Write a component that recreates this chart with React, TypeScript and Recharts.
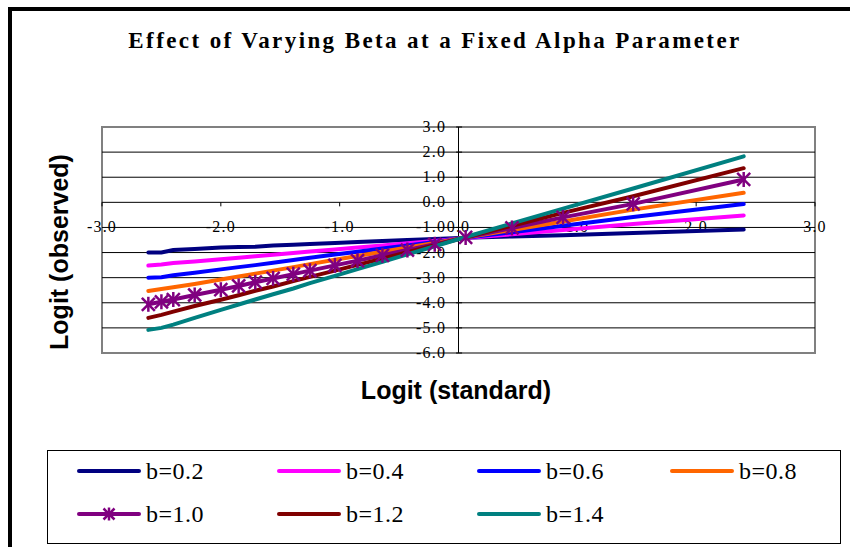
import { LineChart, Line, XAxis, YAxis, ReferenceLine, ReferenceArea } from 'recharts';

// standard logits (x) shared by every series
const xStandard = [-2.61, -2.5, -2.4, -2.22, -2.0, -1.85, -1.71, -1.56, -1.39, -1.25, -1.04, -0.85, -0.64, -0.43, -0.2, 0.06, 0.45, 0.88, 1.47, 2.4];

// observed logits, one array per beta
const beta02 = [-2.0, -2.0, -1.9, -1.86, -1.8, -1.78, -1.77, -1.72, -1.69, -1.66, -1.62, -1.58, -1.54, -1.5, -1.46, -1.41, -1.36, -1.31, -1.22, -1.08];
const beta04 = [-2.52, -2.48, -2.42, -2.36, -2.27, -2.21, -2.15, -2.09, -2.02, -1.96, -1.88, -1.8, -1.72, -1.63, -1.54, -1.42, -1.27, -1.1, -0.86, -0.52];
const beta06 = [-3.0, -2.98, -2.9, -2.8, -2.67, -2.58, -2.5, -2.41, -2.3, -2.21, -2.08, -1.97, -1.84, -1.72, -1.58, -1.41, -1.19, -0.93, -0.58, -0.07];
const beta08 = [-3.53, -3.45, -3.38, -3.25, -3.07, -2.95, -2.84, -2.72, -2.58, -2.46, -2.29, -2.14, -1.97, -1.8, -1.62, -1.4, -1.1, -0.76, -0.29, 0.38];
const beta10 = [-4.06, -3.96, -3.87, -3.69, -3.48, -3.33, -3.18, -3.03, -2.86, -2.72, -2.51, -2.32, -2.11, -1.9, -1.67, -1.4, -1.02, -0.6, -0.06, 0.91];
const beta12 = [-4.6, -4.48, -4.35, -4.13, -3.88, -3.7, -3.52, -3.35, -3.14, -2.97, -2.72, -2.49, -2.24, -1.99, -1.71, -1.39, -0.93, -0.42, 0.24, 1.36];
const beta14 = [-5.08, -5.0, -4.87, -4.6, -4.28, -4.07, -3.87, -3.66, -3.43, -3.22, -2.93, -2.66, -2.37, -2.07, -1.75, -1.38, -0.84, -0.25, 0.55, 1.83];

const seriesNames = ['b=0.2', 'b=0.4', 'b=0.6', 'b=0.8', 'b=1.0', 'b=1.2', 'b=1.4'];
const seriesColors = ['#000080', '#FF00FF', '#0000FF', '#FF6600', '#800080', '#800000', '#008080'];
const seriesValues = [beta02, beta04, beta06, beta08, beta10, beta12, beta14];
const starSeries = 'b=1.0';

const xTicks = [-3, -2, -1, 0, 1, 2, 3];
const yTicks = [3, 2, 1, 0, -1, -2, -3, -4, -5, -6];

const data = xStandard.map((x, i) => {
  const row: Record<string, number> = { x };
  seriesNames.forEach((name, s) => {
    row[name] = seriesValues[s][i];
  });
  return row;
});

const serif = "'Liberation Serif', 'Times New Roman', serif";
const sans = "'Liberation Sans', Arial, sans-serif";

function Star({ cx, cy, color, size = 6.5 }: { cx?: number; cy?: number; color: string; size?: number }) {
  if (cx == null || cy == null) return null;
  return (
    <g stroke={color} strokeWidth={2.5}>
      <line x1={cx - size} y1={cy - size} x2={cx + size} y2={cy + size} />
      <line x1={cx - size} y1={cy + size} x2={cx + size} y2={cy - size} />
      <line x1={cx} y1={cy - size - 1} x2={cx} y2={cy + size + 1} />
    </g>
  );
}

const xTickLabel = (text: string) => (props: any) => {
  const vb = props.viewBox;
  return (
    <text x={vb.x + vb.width / 2} y={vb.y + 30} textAnchor="middle" fontSize={16} fontFamily={serif} letterSpacing={1.2} fill="#000">
      {text}
    </text>
  );
};

const yTickLabel = (text: string) => (props: any) => {
  const vb = props.viewBox;
  return (
    <text x={vb.x - 10} y={vb.y + 5} textAnchor="end" fontSize={16} fontFamily={serif} letterSpacing={1.2} fill="#000">
      {text}
    </text>
  );
};

const legendCols = [28, 228, 428, 621];

function LegendBox() {
  return (
    <div style={{ position: 'absolute', left: 35, top: 439, width: 792, height: 92, border: '1px solid #000', background: '#fff' }}>
      {seriesNames.map((name, i) => {
        const col = i % 4;
        const row = Math.floor(i / 4);
        return (
          <div key={name} style={{ position: 'absolute', left: legendCols[col], top: 20 + row * 43 - 14, height: 28, display: 'flex', alignItems: 'center' }}>
            <svg width={66} height={16} style={{ display: 'block' }}>
              <line x1={3} y1={8} x2={63} y2={8} stroke={seriesColors[i]} strokeWidth={4} strokeLinecap="round" />
              {name === starSeries && <Star cx={33} cy={8} color={seriesColors[i]} size={5.5} />}
            </svg>
            <span style={{ fontFamily: serif, fontSize: 24, marginLeft: 4, letterSpacing: 0.5, lineHeight: '28px' }}>{name}</span>
          </div>
        );
      })}
    </div>
  );
}

export default function App() {
  return (
    <div style={{ position: 'absolute', left: 8, top: 7, width: 838, height: 536, borderTop: '4px solid #000', borderLeft: '4px solid #000', background: '#fff' }}>
      <div style={{ position: 'absolute', left: 0, top: 16, width: 846, textAlign: 'center', fontFamily: serif, fontWeight: 'bold', fontSize: 23, letterSpacing: 2.4, lineHeight: '28px' }}>
        Effect of Varying Beta at a Fixed Alpha Parameter
      </div>
      <LineChart width={838} height={536} data={data} margin={{ top: 116, right: 35, bottom: 194, left: 90 }}>
        <XAxis dataKey="x" type="number" domain={[-3, 3]} ticks={xTicks} hide allowDataOverflow />
        <YAxis type="number" domain={[-6, 3]} ticks={yTicks} hide allowDataOverflow />
        {yTicks.filter((v) => v !== 3 && v !== -6 && v !== 0).map((v) => (
          <ReferenceLine key={`g${v}`} y={v} stroke="#000" strokeWidth={1} />
        ))}
        <ReferenceArea x1={-3} x2={3} y1={-6} y2={3} fill="none" stroke="#808080" strokeWidth={2} />
        <ReferenceLine y={0} stroke="#000" strokeWidth={1} />
        <ReferenceLine x={0} stroke="#000" strokeWidth={1} />
        {xTicks.map((v) => (
          <ReferenceLine key={`xt${v}`} segment={[{ x: v, y: 0 }, { x: v, y: -0.16 }]} stroke="#000" label={xTickLabel(v.toFixed(1))} />
        ))}
        {yTicks.map((v) => (
          <ReferenceLine key={`yt${v}`} segment={[{ x: -0.02, y: v }, { x: 0.03, y: v }]} stroke="#000" label={yTickLabel(v.toFixed(1))} />
        ))}
        {seriesNames.map((name, i) => (
          <Line
            key={name}
            dataKey={name}
            stroke={seriesColors[i]}
            strokeWidth={4}
            strokeLinecap="round"
            isAnimationActive={false}
            dot={name === starSeries ? (p: any) => <Star key={`st${p.index}`} cx={p.cx} cy={p.cy} color={seriesColors[i]} /> : false}
            activeDot={false}
          />
        ))}
      </LineChart>
      <div style={{ position: 'absolute', left: -78, top: 226, width: 250, height: 30, lineHeight: '30px', textAlign: 'center', fontFamily: sans, fontWeight: 'bold', fontSize: 25, transform: 'rotate(-90deg)' }}>
        Logit (observed)
      </div>
      <div style={{ position: 'absolute', left: 244, top: 364, width: 400, height: 30, lineHeight: '30px', textAlign: 'center', fontFamily: sans, fontWeight: 'bold', fontSize: 25 }}>
        Logit (standard)
      </div>
      <LegendBox />
    </div>
  );
}
